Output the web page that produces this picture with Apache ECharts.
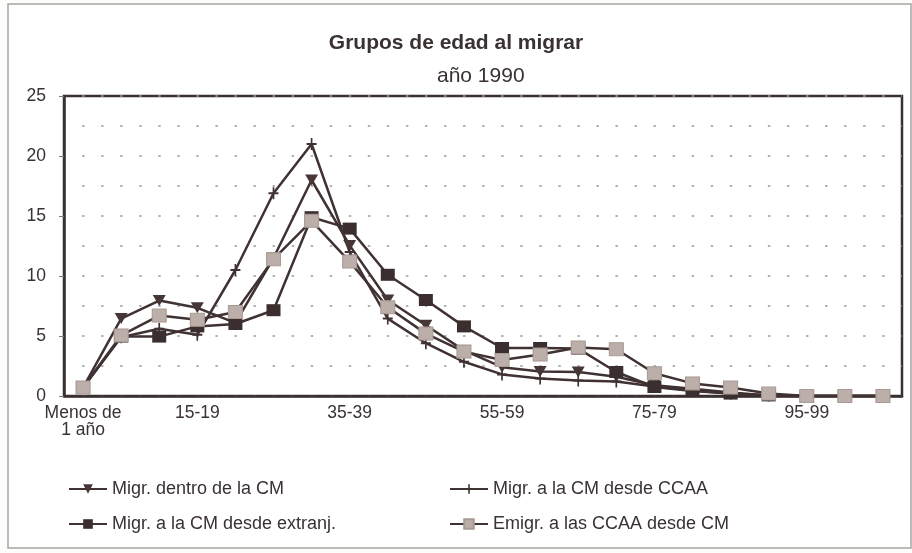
<!DOCTYPE html>
<html>
<head>
<meta charset="utf-8">
<script src="https://cdn.jsdelivr.net/npm/echarts@6/dist/echarts.min.js"></script>
<style>
html,body{margin:0;padding:0;background:#fdfdfc;}
#c{width:912px;height:553px;}
</style>
</head>
<body>
<div id="c"></div>
<script>
const categories = ['Menos de\n1 año','1-9','10-14','15-19','20-24','25-29','30-34','35-39','40-44','45-49','50-54','55-59','60-64','65-69','70-74','75-79','80-84','85-89','90-94','95-99','100-104','105 y más'];
const shownLabels = [0,3,7,11,15,19];
const seriesNames = ['Migr. dentro de la CM','Migr. a la CM desde CCAA','Migr. a la CM desde extranj.','Emigr. a las CCAA desde CM'];
const dentroCM   = [0.7,6.45,7.95,7.35,6.1,11.5,18.0,12.55,8.0,5.9,3.8,2.4,2.05,2.0,1.6,0.9,0.6,0.3,0.05,0,0,0];
const desdeCCAA  = [0.7,4.9,5.6,5.1,10.5,16.9,21.0,12.0,6.45,4.4,2.85,1.8,1.45,1.3,1.2,0.8,0.45,0.2,0.05,0,0,0];
const desdeExtr  = [0.7,4.95,4.95,5.8,6.0,7.15,14.9,13.95,10.1,8.0,5.8,4.0,4.0,3.95,2.0,0.75,0.42,0.2,0.05,0,0,0];
const emigrCCAA  = [0.7,5.05,6.7,6.35,7.0,11.4,14.6,11.2,7.4,5.2,3.7,3.0,3.45,4.05,3.9,1.9,1.05,0.7,0.2,0,0,0];

const FONT = 'Liberation Sans, Arial, Helvetica, sans-serif';
const LINE = '#403232';
const TXT = '#3a3232';
const plus = 'path://M5,0 L7,0 L7,5 L12,5 L12,7 L7,7 L7,12 L5,12 L5,7 L0,7 L0,5 L5,5 Z';

const chart = echarts.init(document.getElementById('c'), null, {renderer:'canvas'});
const gridLine = {show:true, lineStyle:{color:'#9a9a9a', width:1.5, type:[2.5,16.55], dashOffset:1}};

chart.setOption({
  animation:false,
  backgroundColor:'#fdfdfc',
  textStyle:{fontFamily:FONT},
  graphic:[
    {type:'rect', shape:{x:8,y:4,width:903,height:544}, style:{fill:'#ffffff', stroke:'#a8a4a0', lineWidth:1.5}, z:-10}
  ],
  title:[
    {text:'Grupos de edad al migrar', left:'center', top:28, textStyle:{fontFamily:FONT, fontSize:21, fontWeight:'bold', color:TXT}},
    {text:'año 1990', left:432, top:61, textStyle:{fontFamily:FONT, fontSize:21, fontWeight:'normal', color:TXT}}
  ],
  legend:[
    {left:63, top:475, orient:'vertical', itemGap:17, itemWidth:38, itemHeight:12,
     textStyle:{fontFamily:FONT, fontSize:18, color:TXT}, data:[seriesNames[0], seriesNames[2]]},
    {left:444, top:475, orient:'vertical', itemGap:17, itemWidth:38, itemHeight:12,
     textStyle:{fontFamily:FONT, fontSize:18, color:TXT}, data:[seriesNames[1], seriesNames[3]]}
  ],
  grid:{left:64, right:10, top:96, bottom:157, show:true, borderColor:'#3a3030', borderWidth:2.5, backgroundColor:'transparent'},
  xAxis:[
    {type:'category', data:categories, boundaryGap:true,
     axisLine:{lineStyle:{color:'#3a3030', width:2.5}},
     axisTick:{alignWithLabel:true, length:6, lineStyle:{color:'#3a3030', width:2}},
     axisLabel:{interval:(i)=>shownLabels.includes(i), color:TXT, fontSize:17.5, fontFamily:FONT, margin:9, lineHeight:17},
     splitLine:{show:false}},
    {type:'category', data:categories, boundaryGap:true, position:'bottom',
     axisLine:{show:false},
     axisTick:{alignWithLabel:true, inside:true, length:6, lineStyle:{color:'#3a3030', width:2}},
     axisLabel:{show:false}, splitLine:{show:false}}
  ],
  yAxis:{type:'value', min:0, max:25, interval:5,
     axisLine:{show:true, lineStyle:{color:'#3a3030', width:2.5}},
     axisTick:{show:true, length:5, lineStyle:{color:'#777', width:1}},
     axisLabel:{color:TXT, fontSize:17.5, fontFamily:FONT, margin:18},
     splitLine:gridLine,
     minorTick:{show:false, splitNumber:2},
     minorSplitLine:gridLine},
  series:[
    {name:seriesNames[0], type:'line', data:dentroCM, symbol:'triangle', symbolRotate:180, symbolSize:[13,11],
     lineStyle:{color:LINE, width:2.5}, itemStyle:{color:'#463636'}, color:'#463636', z:3},
    {name:seriesNames[1], type:'line', data:desdeCCAA, symbol:plus, symbolSize:[10,12],
     lineStyle:{color:LINE, width:2.5}, itemStyle:{color:'#403232'}, color:'#403232', z:3},
    {name:seriesNames[2], type:'line', data:desdeExtr, symbol:'rect', symbolSize:[14,12],
     lineStyle:{color:LINE, width:2.5}, itemStyle:{color:'#3a2e2e'}, color:'#3a2e2e', z:4},
    {name:seriesNames[3], type:'line', data:emigrCCAA, symbol:'rect', symbolSize:[14,13],
     lineStyle:{color:LINE, width:2.5}, itemStyle:{color:'#bcaea8', borderColor:'#a89a94', borderWidth:1}, color:'#bcaea8', z:5}
  ]
});
</script>
</body>
</html>
